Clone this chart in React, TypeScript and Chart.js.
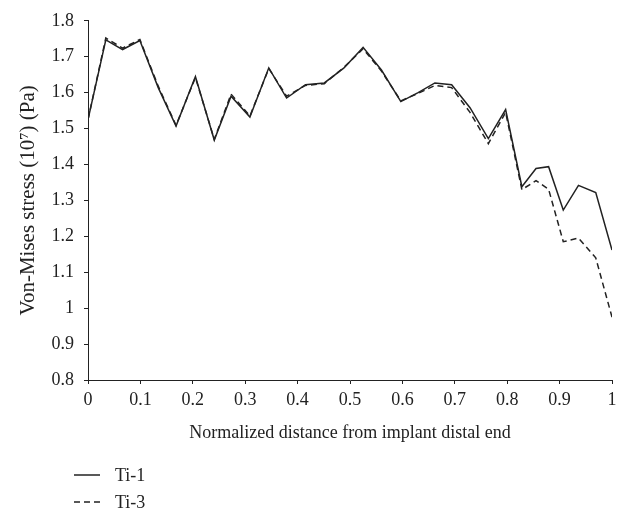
import React, { useEffect, useRef } from "react";
import { Chart, registerables } from "chart.js";

Chart.register(...registerables);

const distance = [0, 0.034, 0.066, 0.099, 0.134, 0.168, 0.205, 0.241, 0.273, 0.309, 0.345, 0.379, 0.415, 0.451, 0.488, 0.525, 0.56, 0.597, 0.63, 0.662, 0.694, 0.729, 0.764, 0.797, 0.828, 0.855, 0.879, 0.907, 0.936, 0.969, 1.0];
const ti1 = [1.525, 1.747, 1.72, 1.745, 1.614, 1.507, 1.645, 1.468, 1.59, 1.532, 1.669, 1.585, 1.622, 1.627, 1.668, 1.726, 1.663, 1.575, 1.6, 1.627, 1.622, 1.558, 1.472, 1.553, 1.338, 1.389, 1.394, 1.273, 1.342, 1.322, 1.162];
const ti3 = [1.525, 1.752, 1.724, 1.748, 1.618, 1.509, 1.642, 1.47, 1.596, 1.535, 1.667, 1.59, 1.62, 1.625, 1.67, 1.722, 1.66, 1.577, 1.598, 1.62, 1.614, 1.545, 1.458, 1.545, 1.33, 1.355, 1.331, 1.185, 1.195, 1.14, 0.975];
const xTicks = [0, 0.1, 0.2, 0.3, 0.4, 0.5, 0.6, 0.7, 0.8, 0.9, 1];
const yTicks = [0.8, 0.9, 1, 1.1, 1.2, 1.3, 1.4, 1.5, 1.6, 1.7, 1.8];
const seriesNames = ["Ti-1", "Ti-3"];
const xTitle = "Normalized distance from implant distal end";
const yTitle = "Von-Mises stress (10\u2077) (Pa)";

const FONT = "'Liberation Serif', 'DejaVu Serif', serif";
const INK = "#222";

export default function App() {
  const ref = useRef<HTMLCanvasElement>(null);

  useEffect(() => {
    document.body.style.margin = "0";
    const canvas = ref.current;
    if (!canvas) return;
    const chart = new Chart(canvas, {
      type: "line",
      data: {
        datasets: [
          {
            label: seriesNames[0],
            data: distance.map((x, i) => ({ x, y: ti1[i] })),
            borderColor: INK,
            borderWidth: 1.5,
            pointRadius: 0,
            tension: 0,
            fill: false,
          },
          {
            label: seriesNames[1],
            data: distance.map((x, i) => ({ x, y: ti3[i] })),
            borderColor: INK,
            borderWidth: 1.5,
            borderDash: [6, 4],
            pointRadius: 0,
            tension: 0,
            fill: false,
          },
        ],
      },
      options: {
        responsive: false,
        animation: false,
        layout: { padding: { top: 15, right: 12, bottom: 65, left: 0 } },
        plugins: { legend: { display: false }, tooltip: { enabled: false } },
        scales: {
          x: {
            type: "linear",
            min: 0,
            max: 1,
            afterBuildTicks: (s: any) => {
              s.ticks = xTicks.map((v) => ({ value: v }));
            },
            afterFit: (s: any) => {
              s.height = 65;
            },
            ticks: {
              autoSkip: false,
              maxRotation: 0,
              padding: 5,
              color: INK,
              font: { family: FONT, size: 18 },
              callback: (v: any) => String(Number(v)),
            },
            grid: { drawOnChartArea: false, drawTicks: true, tickLength: 4, color: INK },
            border: { display: true, color: INK, width: 1 },
            title: {
              display: true,
              text: xTitle,
              color: INK,
              font: { family: FONT, size: 18 },
              padding: { top: 0, bottom: 1 },
            },
          },
          y: {
            type: "linear",
            min: 0.8,
            max: 1.8,
            afterBuildTicks: (s: any) => {
              s.ticks = yTicks.map((v) => ({ value: v }));
            },
            afterFit: (s: any) => {
              s.width = 88;
            },
            ticks: {
              autoSkip: false,
              padding: 10,
              color: INK,
              font: { family: FONT, size: 18 },
              callback: (v: any) => String(Number(v)),
            },
            grid: { drawOnChartArea: false, drawTicks: true, tickLength: 4, color: INK },
            border: { display: true, color: INK, width: 1 },
            title: {
              display: true,
              text: yTitle,
              color: INK,
              font: { family: FONT, size: 21 },
              padding: { top: 16, bottom: 0 },
            },
          },
        },
      },
    });
    return () => chart.destroy();
  }, []);

  const legendRow = (name: string, dash: string | undefined, top: number) => (
    <div
      key={name}
      style={{ position: "absolute", left: 73, top, height: 20, display: "flex", alignItems: "center" }}
    >
      <svg width={28} height={20} style={{ display: "block" }}>
        <line x1={1} y1={10} x2={27} y2={10} stroke={INK} strokeWidth={1.5} strokeDasharray={dash} />
      </svg>
      <span style={{ marginLeft: 14, fontFamily: FONT, fontSize: 18, color: INK, lineHeight: "20px" }}>{name}</span>
    </div>
  );

  return (
    <div style={{ position: "relative", width: 624, height: 510, background: "#fff" }}>
      <canvas ref={ref} width={624} height={510} style={{ position: "absolute", left: 0, top: 0 }} />
      {legendRow(seriesNames[0], undefined, 465)}
      {legendRow(seriesNames[1], "6 4", 492)}
    </div>
  );
}
